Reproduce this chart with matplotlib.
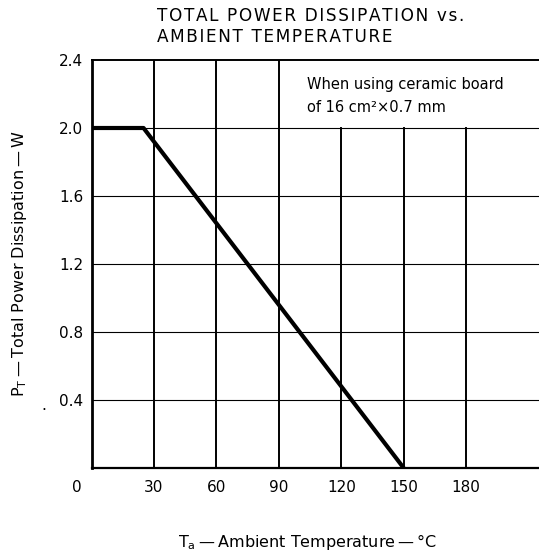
import numpy as np
import matplotlib
matplotlib.use("Agg")
import matplotlib.pyplot as plt

plt.rcParams["font.family"] = ["DejaVu Sans"]
plt.rcParams["mathtext.fontset"] = "dejavusans"

# derating curve: flat 2.0 W up to 25 degC, then linear to 0 at 150 degC
temp = [0, 25, 150]
power = [2.0, 2.0, 0.0]

x_ticks = [30, 60, 90, 120, 150, 180]
y_ticks = [0.4, 0.8, 1.2, 1.6, 2.0, 2.4]

title_lines = ["TOTAL POWER DISSIPATION vs.", "AMBIENT TEMPERATURE"]
note_lines = ["When using ceramic board", "of 16 cm²×0.7 mm"]


def spaced(s):
    # wide letter spacing like the printed datasheet
    return "\u200a".join(s)


fig = plt.figure(figsize=(5.39, 5.52), dpi=100, facecolor="white")
ax = fig.add_axes([91.5 / 539, 1 - 468 / 552, 1 - 91.5 / 539, (468 - 60) / 552])
ax.set_xlim(0, 215)
ax.set_ylim(0, 2.4)

# grid: vertical lines heavier, those under the note stop at 2.0 W
for xt in x_ticks:
    top = 2.4 if xt <= 90 else 2.0
    ax.plot([xt, xt], [0, top], color="black", lw=1.4, zorder=1)
for yt in y_ticks[:-1]:
    ax.axhline(yt, color="black", lw=0.8, zorder=1)

ax.plot(temp, power, color="black", lw=3.0, solid_capstyle="butt", zorder=3)

ax.spines["right"].set_visible(False)
ax.spines["left"].set_linewidth(2.0)
ax.spines["bottom"].set_linewidth(1.6)
ax.spines["top"].set_linewidth(1.4)

ax.set_xticks(x_ticks)
ax.set_xticklabels([str(v) for v in x_ticks])
ax.set_yticks(y_ticks)
ax.set_yticklabels([f"{v:.1f}" for v in y_ticks])
ax.tick_params(length=0, labelsize=11)
ax.tick_params(axis="x", pad=9)
ax.tick_params(axis="y", pad=6)

fig.text(77 / 539, 1 - 487 / 552, "0", ha="center", va="center", fontsize=11)
fig.text(44 / 539, 1 - 405 / 552, ".", ha="center", va="center", fontsize=11)

ax.text(103.4, 2.253, note_lines[0], fontsize=10.5, ha="left", va="center")
ax.text(103.4, 2.12, note_lines[1], fontsize=10.5, ha="left", va="center")

fig.text(157 / 539, 1 - 16 / 552, spaced(title_lines[0]), ha="left",
         va="center", fontsize=12.2)
fig.text(157 / 539, 1 - 37 / 552, spaced(title_lines[1]), ha="left",
         va="center", fontsize=12.2)

fig.text(308 / 539, 1 - 542 / 552,
         "T$_\\mathregular{a}$\u2009\u2014\u2009Ambient Temperature\u2009\u2014\u2009\u00b0C",
         ha="center", va="center", fontsize=11.5)
fig.text(20 / 539, 1 - 264 / 552,
         "P$_\\mathregular{T}$\u2009\u2014\u2009Total Power Dissipation\u2009\u2014\u2009W",
         ha="center", va="center", rotation=90, fontsize=11.5)

plt.savefig("out.png", dpi=100, facecolor="white")
plt.close()
